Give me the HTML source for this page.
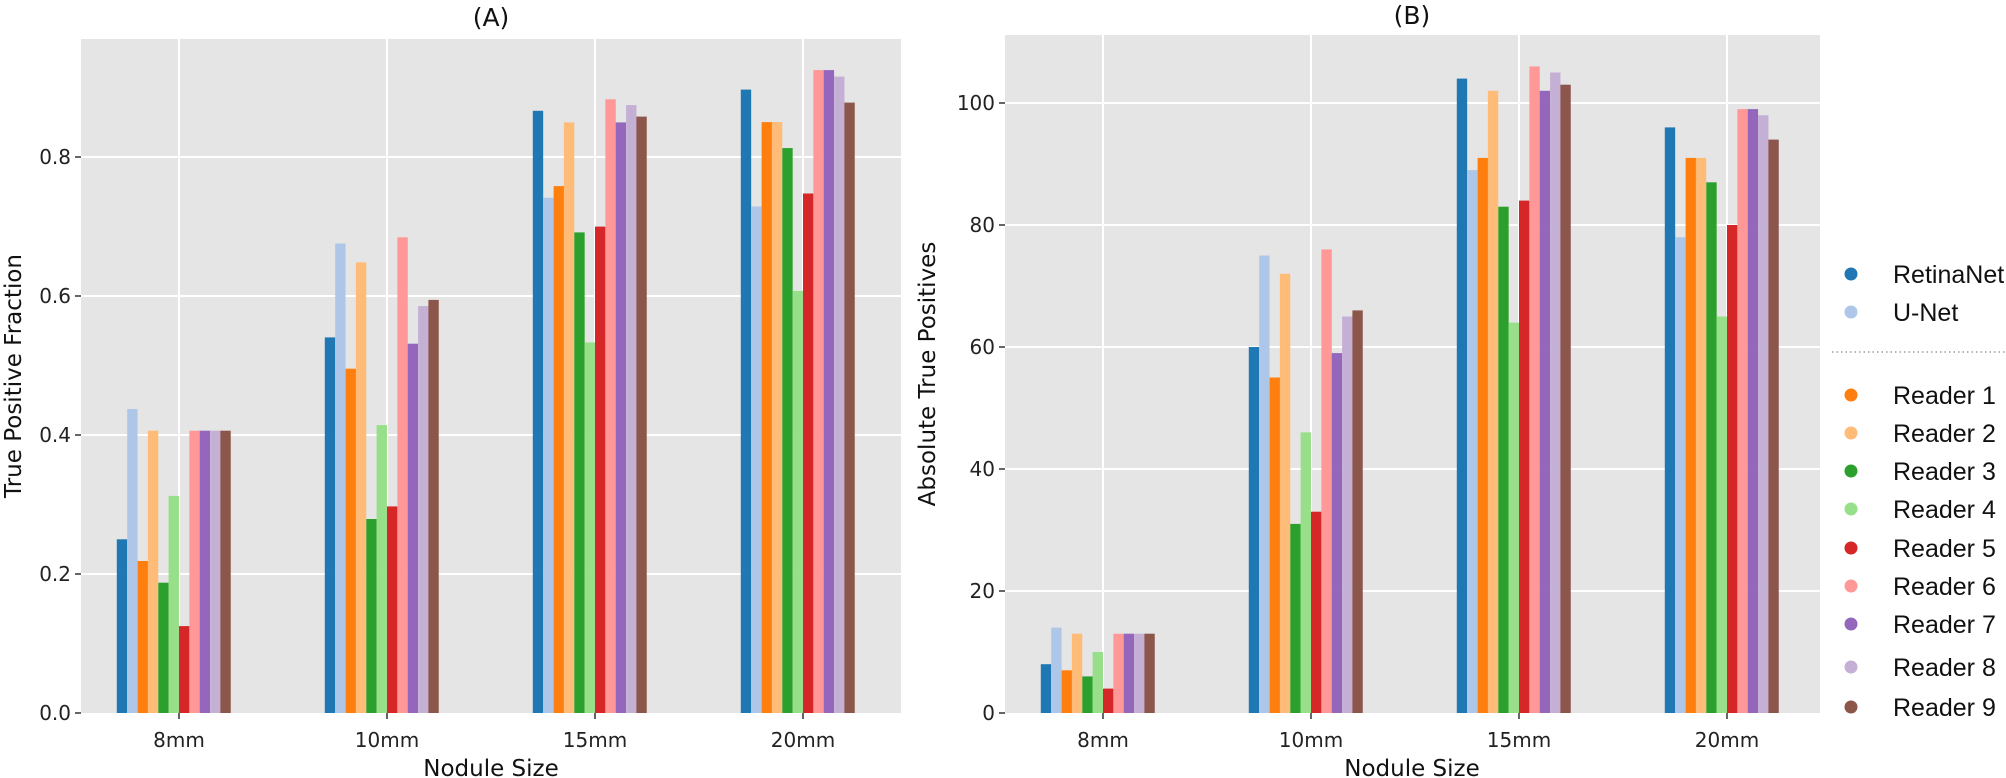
<!DOCTYPE html>
<html><head><meta charset="utf-8"><style>
html,body{margin:0;padding:0;background:#fff;}
svg{display:block;font-family:"DejaVu Sans","Liberation Sans",sans-serif;}
</style></head><body>
<svg id="s" width="2006" height="778" viewBox="0 0 2006 778" xmlns="http://www.w3.org/2000/svg">
<rect x="81" y="39" width="820" height="674" fill="#e5e5e5"/>
<rect x="1005" y="35" width="815" height="678" fill="#e5e5e5"/>
<g stroke="#fff" stroke-width="2">
<line x1="81" x2="901" y1="574" y2="574"/><line x1="81" x2="901" y1="435" y2="435"/><line x1="81" x2="901" y1="296" y2="296"/><line x1="81" x2="901" y1="157" y2="157"/>
<line x1="179" x2="179" y1="39" y2="713"/><line x1="387" x2="387" y1="39" y2="713"/><line x1="595" x2="595" y1="39" y2="713"/><line x1="803" x2="803" y1="39" y2="713"/>
<line x1="1005" x2="1820" y1="591" y2="591"/><line x1="1005" x2="1820" y1="469" y2="469"/><line x1="1005" x2="1820" y1="347" y2="347"/><line x1="1005" x2="1820" y1="225" y2="225"/><line x1="1005" x2="1820" y1="103" y2="103"/>
<line x1="1103" x2="1103" y1="35" y2="713"/><line x1="1311" x2="1311" y1="35" y2="713"/><line x1="1519" x2="1519" y1="35" y2="713"/><line x1="1727" x2="1727" y1="35" y2="713"/>
</g>
<g id="bars"></g>
<g stroke="#333" stroke-width="1.5">
<line x1="75" x2="81" y1="713" y2="713"/><line x1="75" x2="81" y1="574" y2="574"/><line x1="75" x2="81" y1="435" y2="435"/><line x1="75" x2="81" y1="296" y2="296"/><line x1="75" x2="81" y1="157" y2="157"/>
<line x1="179" x2="179" y1="713" y2="719"/><line x1="387" x2="387" y1="713" y2="719"/><line x1="595" x2="595" y1="713" y2="719"/><line x1="803" x2="803" y1="713" y2="719"/>
<line x1="999" x2="1005" y1="713" y2="713"/><line x1="999" x2="1005" y1="591" y2="591"/><line x1="999" x2="1005" y1="469" y2="469"/><line x1="999" x2="1005" y1="347" y2="347"/><line x1="999" x2="1005" y1="225" y2="225"/><line x1="999" x2="1005" y1="103" y2="103"/>
<line x1="1103" x2="1103" y1="713" y2="719"/><line x1="1311" x2="1311" y1="713" y2="719"/><line x1="1519" x2="1519" y1="713" y2="719"/><line x1="1727" x2="1727" y1="713" y2="719"/>
</g>
<g font-size="20" fill="#222" text-anchor="end">
<text x="71" y="720">0.0</text><text x="71" y="581">0.2</text><text x="71" y="442">0.4</text><text x="71" y="303">0.6</text><text x="71" y="164">0.8</text>
<text x="995" y="720">0</text><text x="995" y="598">20</text><text x="995" y="476">40</text><text x="995" y="354">60</text><text x="995" y="232">80</text><text x="995" y="110">100</text>
</g>
<g font-size="20" fill="#222" text-anchor="middle">
<text x="179" y="747">8mm</text><text x="387" y="747">10mm</text><text x="595" y="747">15mm</text><text x="803" y="747">20mm</text>
<text x="1103" y="747">8mm</text><text x="1311" y="747">10mm</text><text x="1519" y="747">15mm</text><text x="1727" y="747">20mm</text>
</g>
<g font-size="23" fill="#111" text-anchor="middle">
<text x="491" y="776">Nodule Size</text><text x="1412" y="776">Nodule Size</text>
<text x="491" y="26" font-size="25">(A)</text><text x="1412" y="24" font-size="25">(B)</text>
<text transform="translate(21,376) rotate(-90)">True Positive Fraction</text>
<text transform="translate(935,374) rotate(-90)">Absolute True Positives</text>
</g>
<g font-family="Liberation Sans, sans-serif" font-size="25" fill="#111">
<circle cx="1851" cy="274" r="6.5" fill="#1f77b4"/><text x="1893" y="283">RetinaNet</text>
<circle cx="1851" cy="312" r="6.5" fill="#aec7e8"/><text x="1893" y="321">U-Net</text>
<line x1="1832" x2="2006" y1="352" y2="352" stroke="#888" stroke-width="1.3" stroke-dasharray="1.5,3"/>
<circle cx="1851" cy="395" r="6.5" fill="#ff7f0e"/><text x="1893" y="404">Reader 1</text>
<circle cx="1851" cy="433" r="6.5" fill="#ffbb78"/><text x="1893" y="442">Reader 2</text>
<circle cx="1851" cy="471" r="6.5" fill="#2ca02c"/><text x="1893" y="480">Reader 3</text>
<circle cx="1851" cy="509" r="6.5" fill="#98df8a"/><text x="1893" y="518">Reader 4</text>
<circle cx="1851" cy="548" r="6.5" fill="#d62728"/><text x="1893" y="557">Reader 5</text>
<circle cx="1851" cy="586" r="6.5" fill="#ff9896"/><text x="1893" y="595">Reader 6</text>
<circle cx="1851" cy="624" r="6.5" fill="#9467bd"/><text x="1893" y="633">Reader 7</text>
<circle cx="1851" cy="667" r="6.5" fill="#c5b0d5"/><text x="1893" y="676">Reader 8</text>
<circle cx="1851" cy="707" r="6.5" fill="#8c564b"/><text x="1893" y="716">Reader 9</text>
</g>
</svg>
<script>
var C=["#1f77b4","#aec7e8","#ff7f0e","#ffbb78","#2ca02c","#98df8a","#d62728","#ff9896","#9467bd","#c5b0d5","#8c564b"];
var B=[[8,14,7,13,6,10,4,13,13,13,13],[60,75,55,72,31,46,33,76,59,65,66],[104,89,91,102,83,64,84,106,102,105,103],[96,78,91,91,87,65,80,99,99,98,94]];
var D=[32,111,120,107];
var g=document.getElementById("bars"),h="",w=10.36;
for(var k=0;k<4;k++){for(var i=0;i<11;i++){
var v=B[k][i]/D[k],y=713-v*694.8,x=179+208*k+(i-6)*w;
h+='<rect x="'+x.toFixed(1)+'" y="'+y.toFixed(1)+'" width="'+w+'" height="'+(713-y).toFixed(1)+'" fill="'+C[i]+'"/>';
var y2=713-B[k][i]*6.1,x2=1103+208*k+(i-6)*w;
h+='<rect x="'+x2.toFixed(1)+'" y="'+y2.toFixed(1)+'" width="'+w+'" height="'+(713-y2).toFixed(1)+'" fill="'+C[i]+'"/>';
}}
g.innerHTML=h;
</script>
</body></html>
